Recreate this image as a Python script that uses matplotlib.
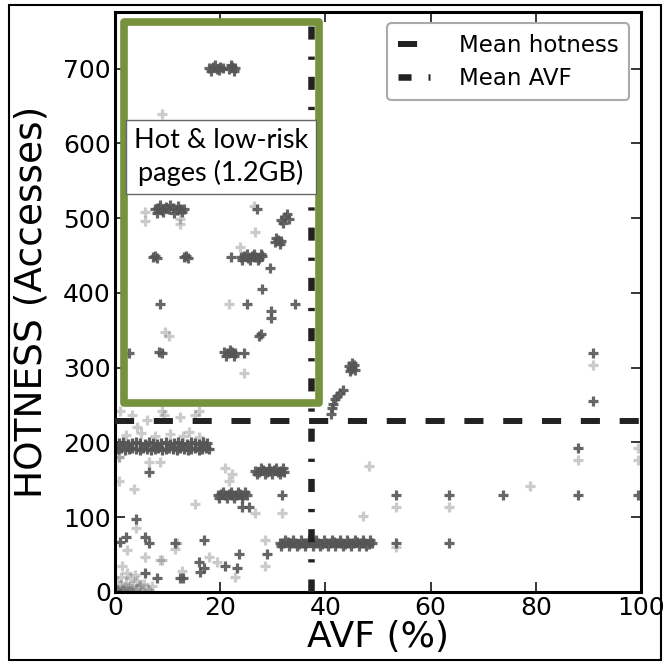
import matplotlib
matplotlib.use("Agg")
import matplotlib.pyplot as plt
from matplotlib.patches import Rectangle

# dense (dark) page samples: AVF (%) and hotness (accesses)
dark_x = [17.9, 18.6, 19.3, 20.0, 20.5, 21.7, 22.3, 22.9, 18.2, 19.0, 19.7, 22.0, 22.6,
          7.5, 8.2, 8.9, 9.6, 10.3, 11.0, 11.7, 12.4, 13.1, 8.5, 10.5, 12.0, 7.9, 9.2, 11.3, 12.7,
          7.2, 7.6, 8.0, 13.1, 13.5, 13.9, 22.0, 23.9, 24.6, 25.3, 26.0, 26.7, 27.4, 28.0,
          24.2, 25.0, 25.7, 26.4, 27.1, 27.7,
          8.6, 25.0, 34.2,
          2.7, 8.3, 8.9, 20.8, 21.5, 22.2, 22.9, 24.6, 21.1, 21.9, 22.6,
          27.0, 31.6, 32.3, 33.0, 30.4, 31.0, 31.6, 29.5, 28.0, 29.7, 29.7, 27.3, 27.7,
          32.0, 32.7, 30.7, 31.3,
          41.0, 41.2, 41.4, 41.8, 42.3, 42.8, 43.3, 44.6, 45.0, 45.4, 45.0, 44.8, 44.4, 45.6,
          26.7, 27.4, 28.1, 28.8, 29.5, 30.2, 30.9, 31.6, 32.2,
          27.0, 27.8, 28.5, 29.2, 29.9, 30.6, 31.3, 31.9,
          19.5, 20.2, 20.9, 21.6, 22.3, 23.0, 23.7, 24.4, 25.0,
          19.8, 20.6, 21.3, 22.0, 22.7, 23.4, 24.1, 24.7, 31.7, 24.1, 25.5,
          31.3, 32.0, 32.8, 33.5, 34.2, 35.0, 35.7, 36.4, 37.2, 37.9, 38.6, 39.4, 40.1,
          40.8, 41.6, 42.3, 43.0, 43.8, 44.5, 45.2, 46.0, 46.7, 47.4, 48.2, 48.8,
          31.6, 32.4, 33.1, 33.9, 34.6, 35.3, 36.1, 36.8, 37.6, 38.3, 39.0, 39.8, 40.5,
          41.2, 41.9, 42.7, 43.4, 44.1, 44.9, 45.6, 46.3, 47.1, 47.8, 48.5,
          53.4, 63.5, 53.4, 63.5, 73.8, 88.0, 88.0, 90.9, 90.9, 99.5,
          6.5, 4.0, 1.0, 2.0, 6.5, 5.7, 11.4, 17.0, 13.0, 12.4, 17.0, 16.0, 16.2,
          20.9, 23.6, 23.2, 28.9, 8.0, 5.7]
dark_y = [701, 703, 700, 702, 701, 700, 702, 701, 697, 705, 698, 705, 697,
          512, 514, 511, 515, 512, 514, 511, 513, 512, 518, 518, 517, 507, 508, 507, 508,
          448, 449, 447, 448, 449, 447, 448, 448, 449, 447, 449, 448, 447, 449,
          444, 452, 444, 452, 444, 452,
          385, 385, 385,
          320, 321, 319, 321, 319, 321, 320, 320, 316, 324, 316,
          512, 497, 502, 499, 468, 471, 469, 434, 405, 366, 376, 342, 345,
          494, 505, 474, 465,
          238, 246, 252, 258, 262, 266, 270, 295, 300, 303, 306, 298, 302, 297,
          162, 161, 163, 161, 162, 163, 161, 162, 161,
          158, 166, 158, 166, 158, 166, 158, 166,
          130, 131, 129, 131, 130, 129, 131, 130, 129,
          126, 134, 126, 134, 126, 134, 126, 134, 130, 114, 114,
          66, 65, 67, 65, 66, 64, 66, 65, 67, 65, 66, 64, 66,
          65, 67, 65, 66, 64, 66, 65, 67, 65, 66, 64, 66,
          62, 69, 62, 69, 62, 69, 62, 69, 62, 69, 62, 69, 62,
          69, 62, 69, 62, 69, 62, 69, 62, 69, 62, 69,
          66, 66, 129, 129, 129, 193, 129, 320, 256, 129,
          161, 98, 67, 74, 66, 74, 66, 69, 19, 18, 32, 40, 27,
          34, 50, 32, 50, 18, 25]

# band of pages around 195 accesses
band_x = [0.5, 1.2, 1.9, 2.6, 3.3, 4.0, 4.7, 5.4, 6.1, 6.8, 7.5, 8.2, 8.9, 9.6,
          10.3, 11.0, 11.7, 12.4, 13.1, 13.8, 14.5, 15.2, 15.9, 16.6, 17.3, 17.9,
          0.8, 1.6, 2.4, 3.2, 4.0, 4.8, 5.6, 6.4, 7.2, 8.0, 8.8, 9.6, 10.4,
          11.2, 12.0, 12.8, 13.6, 14.4, 15.2, 16.0, 16.8, 17.5]
band_y = [191, 192, 190, 191, 192, 191, 190, 192, 191, 190, 191, 192, 190,
          191, 192, 191, 190, 192, 191, 190, 191, 192, 190, 191, 192, 191,
          199, 200, 198, 199, 200, 199, 198, 200, 199, 198, 199, 200, 198,
          199, 200, 199, 198, 200, 199, 198, 200, 199]

# sparse (light) page samples
light_x = [26.6, 23.8, 5.7, 5.7, 12.4, 12.4, 10.3, 9.5, 24.5, 21.7, 26.4, 9.0,
           3.3, 9.4, 12.4, 15.2, 9.0, 1.0, 6.0, 16.0,
           2.0, 5.0, 7.5, 10.5, 13.0, 16.0, 14.0, 4.2, 0.8,
           53.4, 53.4, 63.5, 48.3, 47.1, 78.9, 88.0, 90.9, 99.5, 99.5,
           4.0, 2.3, 5.7, 8.6, 11.4, 17.8, 19.4, 22.8, 28.5, 28.5, 1.3, 9.0,
           6.5, 8.6, 3.6, 21.0, 21.6, 22.2, 0.8, 0.8, 15.2, 26.6, 31.8, 11.8, 12.7,
           0.5, 1.0, 1.5, 2.0, 2.5, 3.0, 3.5, 4.0, 4.5, 5.0, 5.5, 6.0, 6.5, 7.0,
           0.3, 1.2, 2.8, 4.2, 0.2, 0.8, 1.8, 3.2, 4.8, 2.2, 3.8, 0.4, 1.4, 2.6]
light_y = [482, 461, 508, 496, 499, 492, 342, 348, 293, 385, 516, 640,
           237, 237, 234, 237, 242, 242, 230, 242,
           210, 212, 208, 211, 209, 207, 214, 221, 181,
           60, 113, 113, 169, 101, 141, 177, 304, 193, 177,
           86, 56, 46, 42, 57, 47, 40, 20, 34, 70, 34, 43,
           174, 174, 137, 166, 148, 158, 148, 181, 118, 106, 106, 66, 28,
           3, 8, 2, 12, 5, 1, 9, 3, 6, 1, 11, 4, 2, 8,
           15, 20, 18, 14, 1, 0.5, 6, 4, 9, 25, 22, 2, 4, 1]

mean_hotness = 229
mean_avf = 37.2
box_x = (1.7, 38.8)
box_y = (253, 762)

fig = plt.figure(figsize=(6.69, 6.65), dpi=100)
ax = fig.add_axes([0.172, 0.110, 0.786, 0.872])

ax.scatter(light_x, light_y, marker="+", s=45, linewidths=2.3, color="#555555", alpha=0.3, zorder=2)
ax.scatter(band_x, band_y, marker="+", s=45, linewidths=2.3, color="#555555", alpha=0.95, zorder=2)
ax.scatter(dark_x, dark_y, marker="+", s=45, linewidths=2.3, color="#555555", alpha=0.9, zorder=2)

ax.axhline(mean_hotness, color="#222222", lw=4.3, ls=(0, (3.2, 3.3)), dash_capstyle="butt",
           label="Mean hotness", zorder=3)
ax.axvline(mean_avf, color="#222222", lw=4.7, ls=(0, (2.0, 2.6, 0.5, 2.6)), dash_capstyle="butt",
           label="Mean AVF", zorder=3)

ax.add_patch(Rectangle((box_x[0], box_y[0]), box_x[1] - box_x[0], box_y[1] - box_y[0],
                       fill=False, edgecolor="#76923C", lw=5.5, joinstyle="round", zorder=4))
ax.text(20.1, 582, "Hot & low-risk\npages (1.2GB)", family="Lato", fontsize=19.5,
        ha="center", va="center", linespacing=1.3, zorder=5,
        bbox=dict(boxstyle="square,pad=0.3", facecolor="white", edgecolor="#666666", lw=1))

ax.set_xlim(0, 100)
ax.set_ylim(0, 776)
ax.set_xticks([0, 20, 40, 60, 80, 100])
ax.set_yticks([0, 100, 200, 300, 400, 500, 600, 700])
ax.tick_params(direction="in", top=True, right=True, length=7, width=1.1, labelsize=18, pad=3)
for s in ax.spines.values():
    s.set_linewidth(2.2)
ax.set_xlabel("AVF (%)", fontsize=26, labelpad=0)
ax.set_ylabel("HOTNESS (Accesses)", fontsize=27, labelpad=10)

leg = ax.legend(loc="upper right", fontsize=16.5, fancybox=True, framealpha=1, edgecolor="#aaaaaa",
                handlelength=1.4, handletextpad=1.3, labelspacing=0.45, borderpad=0.45)
leg.get_frame().set_linewidth(1.5)

fig.patches.append(Rectangle((0.0135, 0.0075), 0.9746, 0.985, transform=fig.transFigure,
                             fill=False, edgecolor="black", lw=1.5))

fig.savefig("out.png", dpi=100)
